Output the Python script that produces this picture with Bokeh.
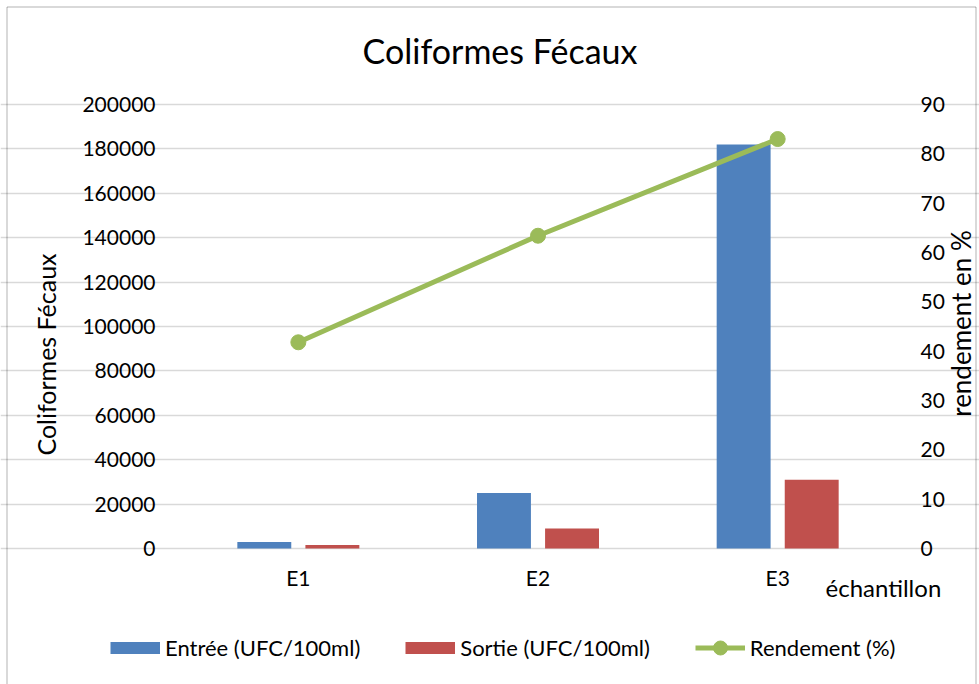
import math
from bokeh.plotting import figure
from bokeh.models import (Range1d, LinearAxis, FixedTicker, BasicTickFormatter,
                          Legend, LegendItem, Label, BoxAnnotation, ColumnDataSource)
from bokeh.embed import file_html
from bokeh.resources import INLINE

# ---- data ----
categories = ["E1", "E2", "E3"]
entree = [2900, 25000, 182000]
sortie = [1600, 9000, 31000]
rendement = [41.8, 63.4, 83.0]

left_ticks = [0, 20000, 40000, 60000, 80000, 100000, 120000, 140000, 160000, 180000, 200000]
right_ticks = [0, 10, 20, 30, 40, 50, 60, 70, 80, 90]

series_names = ["Entrée (UFC/100ml)", "Sortie (UFC/100ml)", "Rendement (%)"]
title_text = "Coliformes Fécaux"
left_title = "Coliformes Fécaux"
right_title = "rendement en %"
x_title = "échantillon"

FONT = "Lato"
BLUE = "#4F81BD"
RED = "#C0504D"
GREEN = "#9BBB59"

xs = list(range(len(categories)))
BAR_OFF = 0.142
BAR_W = 0.225

src = ColumnDataSource(dict(
    x=xs,
    x_in=[x - BAR_OFF for x in xs],
    x_out=[x + BAR_OFF for x in xs],
    entree=entree, sortie=sortie, rend=rendement))

W, H = 979, 684
# frame fills the canvas; plot area spans x -0.5..2.5 and y 0..200000 (px 104..548)
p = figure(width=W, height=H, output_backend="svg", toolbar_location=None,
           x_range=Range1d(-1.2427, 2.8421), y_range=Range1d(-61261.3, 246846.8),
           x_axis_location=None, y_axis_location=None)
p.extra_y_ranges = {"right": Range1d(-27.568, 111.081)}
p.min_border = 0
p.min_border_left = 0
p.min_border_right = 0
p.min_border_top = 0
p.min_border_bottom = 0
p.outline_line_color = None
p.background_fill_color = "white"
p.border_fill_color = "white"
p.title.text = ""

def style_axis(ax):
    ax.axis_line_color = None
    ax.major_tick_line_color = None
    ax.minor_tick_line_color = None
    ax.major_tick_out = 0
    ax.major_tick_in = 0
    ax.major_label_text_font = FONT
    ax.major_label_text_font_size = "21px"
    ax.major_label_text_color = "#000000"

xaxis = LinearAxis(ticker=FixedTicker(ticks=xs), fixed_location=0,
                   major_label_overrides={x: c for x, c in zip(xs, categories)})
style_axis(xaxis)
xaxis.major_label_standoff = 17
p.add_layout(xaxis, "below")

laxis = LinearAxis(ticker=FixedTicker(ticks=left_ticks), fixed_location=-0.5,
                   formatter=BasicTickFormatter(use_scientific=False))
style_axis(laxis)
laxis.major_label_standoff = 23
p.add_layout(laxis, "left")

raxis = LinearAxis(ticker=FixedTicker(ticks=right_ticks), fixed_location=2.5,
                   y_range_name="right")
style_axis(raxis)
raxis.major_label_standoff = 23
p.add_layout(raxis, "right")

p.xgrid.grid_line_color = None
p.ygrid.grid_line_color = "#D9D9D9"
p.ygrid.grid_line_width = 1.5
p.ygrid.ticker = FixedTicker(ticks=left_ticks)
p.ygrid.bounds = (-0.5, 2.5)

# bars
r_in = p.vbar(x="x_in", top="entree", width=BAR_W, source=src,
              fill_color=BLUE, line_color=None)
r_out = p.vbar(x="x_out", top="sortie", width=BAR_W, source=src,
               fill_color=RED, line_color=None)
# line
r_line = p.line(x="x", y="rend", source=src, y_range_name="right",
                line_color=GREEN, line_width=5)
r_pts = p.scatter(x="x", y="rend", source=src, y_range_name="right",
                  size=15, fill_color=GREEN, line_color=GREEN, marker="circle")

# legend swatches (renderers with no drawable point, used only for the legend keys)
nan = float("nan")
empty = ColumnDataSource(dict(x=[nan], y=[nan]))
k_in = p.line(x="x", y="y", source=empty, line_color=BLUE, line_width=12)
k_out = p.line(x="x", y="y", source=empty, line_color=RED, line_width=12)

legend = Legend(items=[
    LegendItem(label=series_names[0], renderers=[k_in]),
    LegendItem(label=series_names[1], renderers=[k_out]),
    LegendItem(label=series_names[2], renderers=[r_line, r_pts]),
], orientation="horizontal", location=(110, 19))
legend.label_text_font = FONT
legend.label_text_font_size = "22px"
legend.label_text_color = "#000000"
legend.label_standoff = 5
legend.glyph_width = 50
legend.glyph_height = 35
legend.spacing = 45
legend.padding = 0
legend.margin = 0
legend.border_line_color = None
legend.background_fill_alpha = 0
p.add_layout(legend, "center")

def add_text(x, y, text, size, align="center", angle=0.0):
    p.add_layout(Label(x=x, y=y, x_units="screen", y_units="screen", text=text,
                       angle=angle, text_font=FONT, text_font_size=size,
                       text_align=align, text_baseline="middle", text_color="#000000"))

add_text(499.5, 634, title_text, "34px")
add_text(45, 330, left_title, "25px", angle=math.pi / 2)
add_text(960, 361, right_title, "26px", angle=math.pi / 2)
add_text(825, 97, x_title, "24px", align="left")

# outer chart border
p.add_layout(BoxAnnotation(left=6.5, right=975.5, top=677.5, bottom=-20,
                           left_units="screen", right_units="screen",
                           top_units="screen", bottom_units="screen",
                           fill_alpha=0, line_color="#000000", line_width=1))

open("out.html", "w").write(file_html(p, INLINE))
